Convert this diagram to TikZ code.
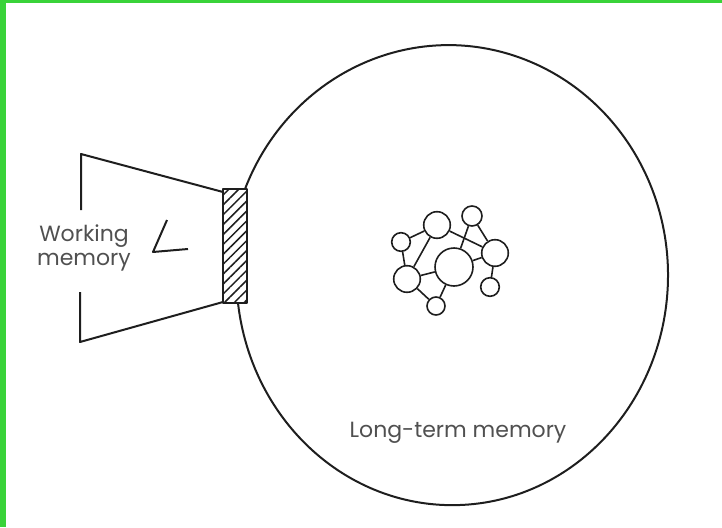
\documentclass[tikz,border=0pt]{standalone}
\usepackage{fontspec}
\setmainfont{Poppins}
\usetikzlibrary{patterns.meta}
\definecolor{frame}{RGB}{57,211,57}
\definecolor{ink}{RGB}{30,30,30}
\definecolor{txt}{RGB}{80,80,80}

\begin{document}
\begin{tikzpicture}[x=1pt, y=-1pt, line width=2pt, line join=round,
    blob/.style={circle, draw=ink, line width=1.6pt, inner sep=0pt},
    link/.style={ink, line width=1.6pt},
    caption/.style={text=txt, inner sep=0pt, align=center, font=\fontsize{22}{24}\selectfont}]
    \useasboundingbox (0,0) rectangle (722,527);
    \fill[frame] (0,0) rectangle (722,3);
    \fill[frame] (0,0) rectangle (6,527);
    % long-term memory outline
    \coordinate (top) at (245,189);
    \draw[ink] (top) arc[start angle=202, end angle=360, x radius=219.5, y radius=230] coordinate (tip)
        arc[start angle=0, end angle=173, x radius=215.8, y radius=230] coordinate (bottom);
    % working memory
    \draw[ink] (81,210) -- (81,154) -- (223,192);
    \draw[ink] (80,292) -- (80,342) -- (223,302);
    \draw[ink] (167,220) -- (153,252) -- (188,249);
    \draw[ink, pattern={Lines[angle=45, distance=7pt, line width=1.5pt]}, pattern color=ink] (223,189) rectangle (247,303);
    \node [caption] (WM) at (84,248) {Working\\memory};
    \node [caption, anchor=base] (LTM) at (458,437) {Long-term memory};
    % knowledge network
    \node [blob, minimum size=26.6] (A) at (437,225) {};
    \node [blob, minimum size=20] (B) at (472,216) {};
    \node [blob, minimum size=18.6] (C) at (401,242) {};
    \node [blob, minimum size=26.6] (D) at (495,253) {};
    \node [blob, minimum size=38] (E) at (454,267) {};
    \node [blob, minimum size=26.6] (F) at (407,279) {};
    \node [blob, minimum size=18] (G) at (436,306) {};
    \node [blob, minimum size=18.6] (H) at (490,287) {};
    \path[link] (C) edge (A);
    \path[link] (C) edge (F);
    \path[link] (A) edge (F);
    \path[link] (A) edge (D);
    \path[link] (B) edge (E);
    \path[link] (B) edge (D);
    \path[link] (E) edge (D);
    \path[link] (D) edge (H);
    \path[link] (F) edge (E);
    \path[link] (F) edge (G);
    \path[link] (G) edge (E);
\end{tikzpicture}
\end{document}
